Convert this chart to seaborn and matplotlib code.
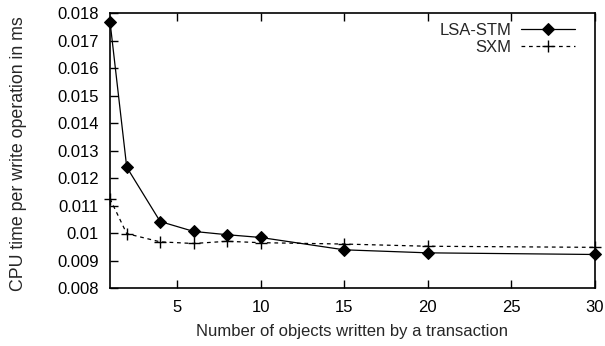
import matplotlib
matplotlib.use("Agg")
import matplotlib.pyplot as plt
import seaborn as sns
import pandas as pd

objects = [1, 2, 4, 6, 8, 10, 15, 20, 30]
lsa_stm = [0.0177, 0.0124, 0.01042, 0.01006, 0.00994, 0.00984, 0.00939, 0.00928, 0.00922]
sxm = [0.01125, 0.00998, 0.00968, 0.00962, 0.00970, 0.00965, 0.00960, 0.00952, 0.00948]
series_names = ["LSA-STM", "SXM"]
x_ticks = [5, 10, 15, 20, 25, 30]
y_ticks = [0.008, 0.009, 0.01, 0.011, 0.012, 0.013, 0.014, 0.015, 0.016, 0.017, 0.018]
y_tick_labels = ["0.008", "0.009", "0.01", "0.011", "0.012", "0.013", "0.014", "0.015", "0.016", "0.017", "0.018"]

df_lsa = pd.DataFrame({"x": objects, "y": lsa_stm})
df_sxm = pd.DataFrame({"x": objects, "y": sxm})

sns.set_style("ticks")
plt.rcParams["font.family"] = ["Liberation Sans", "DejaVu Sans"]
FS = 12

fig = plt.figure(figsize=(6.05, 3.46), dpi=100)
ax_left, ax_bottom_px, ax_w, ax_top_px = 110, 288, 485, 13.3
ax_h = ax_bottom_px - ax_top_px
ax = fig.add_axes([ax_left / 605, 1 - ax_bottom_px / 346, ax_w / 605, ax_h / 346])

sns.lineplot(
    data=df_lsa, x="x", y="y", color="black", marker="D", markersize=6.5,
    markeredgecolor="black", linewidth=0.9, label=series_names[0], ax=ax,
    clip_on=False, zorder=3,
)
sns.lineplot(
    data=df_sxm, x="x", y="y", color="black", marker="+", markersize=8,
    markeredgecolor="black", markeredgewidth=1.0, linewidth=0.9,
    linestyle=(0, (3, 3)), label=series_names[1], ax=ax, clip_on=False, zorder=2,
)

ax.set_xlim(1, 30)
ax.set_ylim(0.008, 0.018)
ax.set_xticks(x_ticks)
ax.set_xticklabels([str(t) for t in x_ticks])
ax.set_yticks(y_ticks)
ax.set_yticklabels(y_tick_labels)
ax.tick_params(axis="both", direction="in", length=6, width=1, labelsize=FS, color="black", labelcolor="black")
ax.tick_params(axis="x", top=True, pad=9)
ax.tick_params(axis="y", right=False, pad=8)
for s in ax.spines.values():
    s.set_visible(True)
    s.set_linewidth(1.2)
    s.set_color("black")

ax.set_xlabel("Number of objects written by a transaction", fontsize=FS, va="center")
ax.set_ylabel("CPU time per write operation in ms", fontsize=12.8, va="center")
ax.xaxis.set_label_coords(0.5, (ax_bottom_px - 331.5) / ax_h)
ax.yaxis.set_label_coords((19 - ax_left) / ax_w, (ax_bottom_px - 154) / ax_h)

leg = ax.legend(
    loc="upper right", markerfirst=False, frameon=False, title=None,
    handlelength=3.23, handletextpad=0.6, fontsize=FS,
    borderaxespad=0.0, borderpad=0.4, labelspacing=0.12,
    bbox_to_anchor=(1 - 13.3 / ax_w, 1 - 2.7 / ax_h),
)

fig.savefig("out.png", dpi=100)
